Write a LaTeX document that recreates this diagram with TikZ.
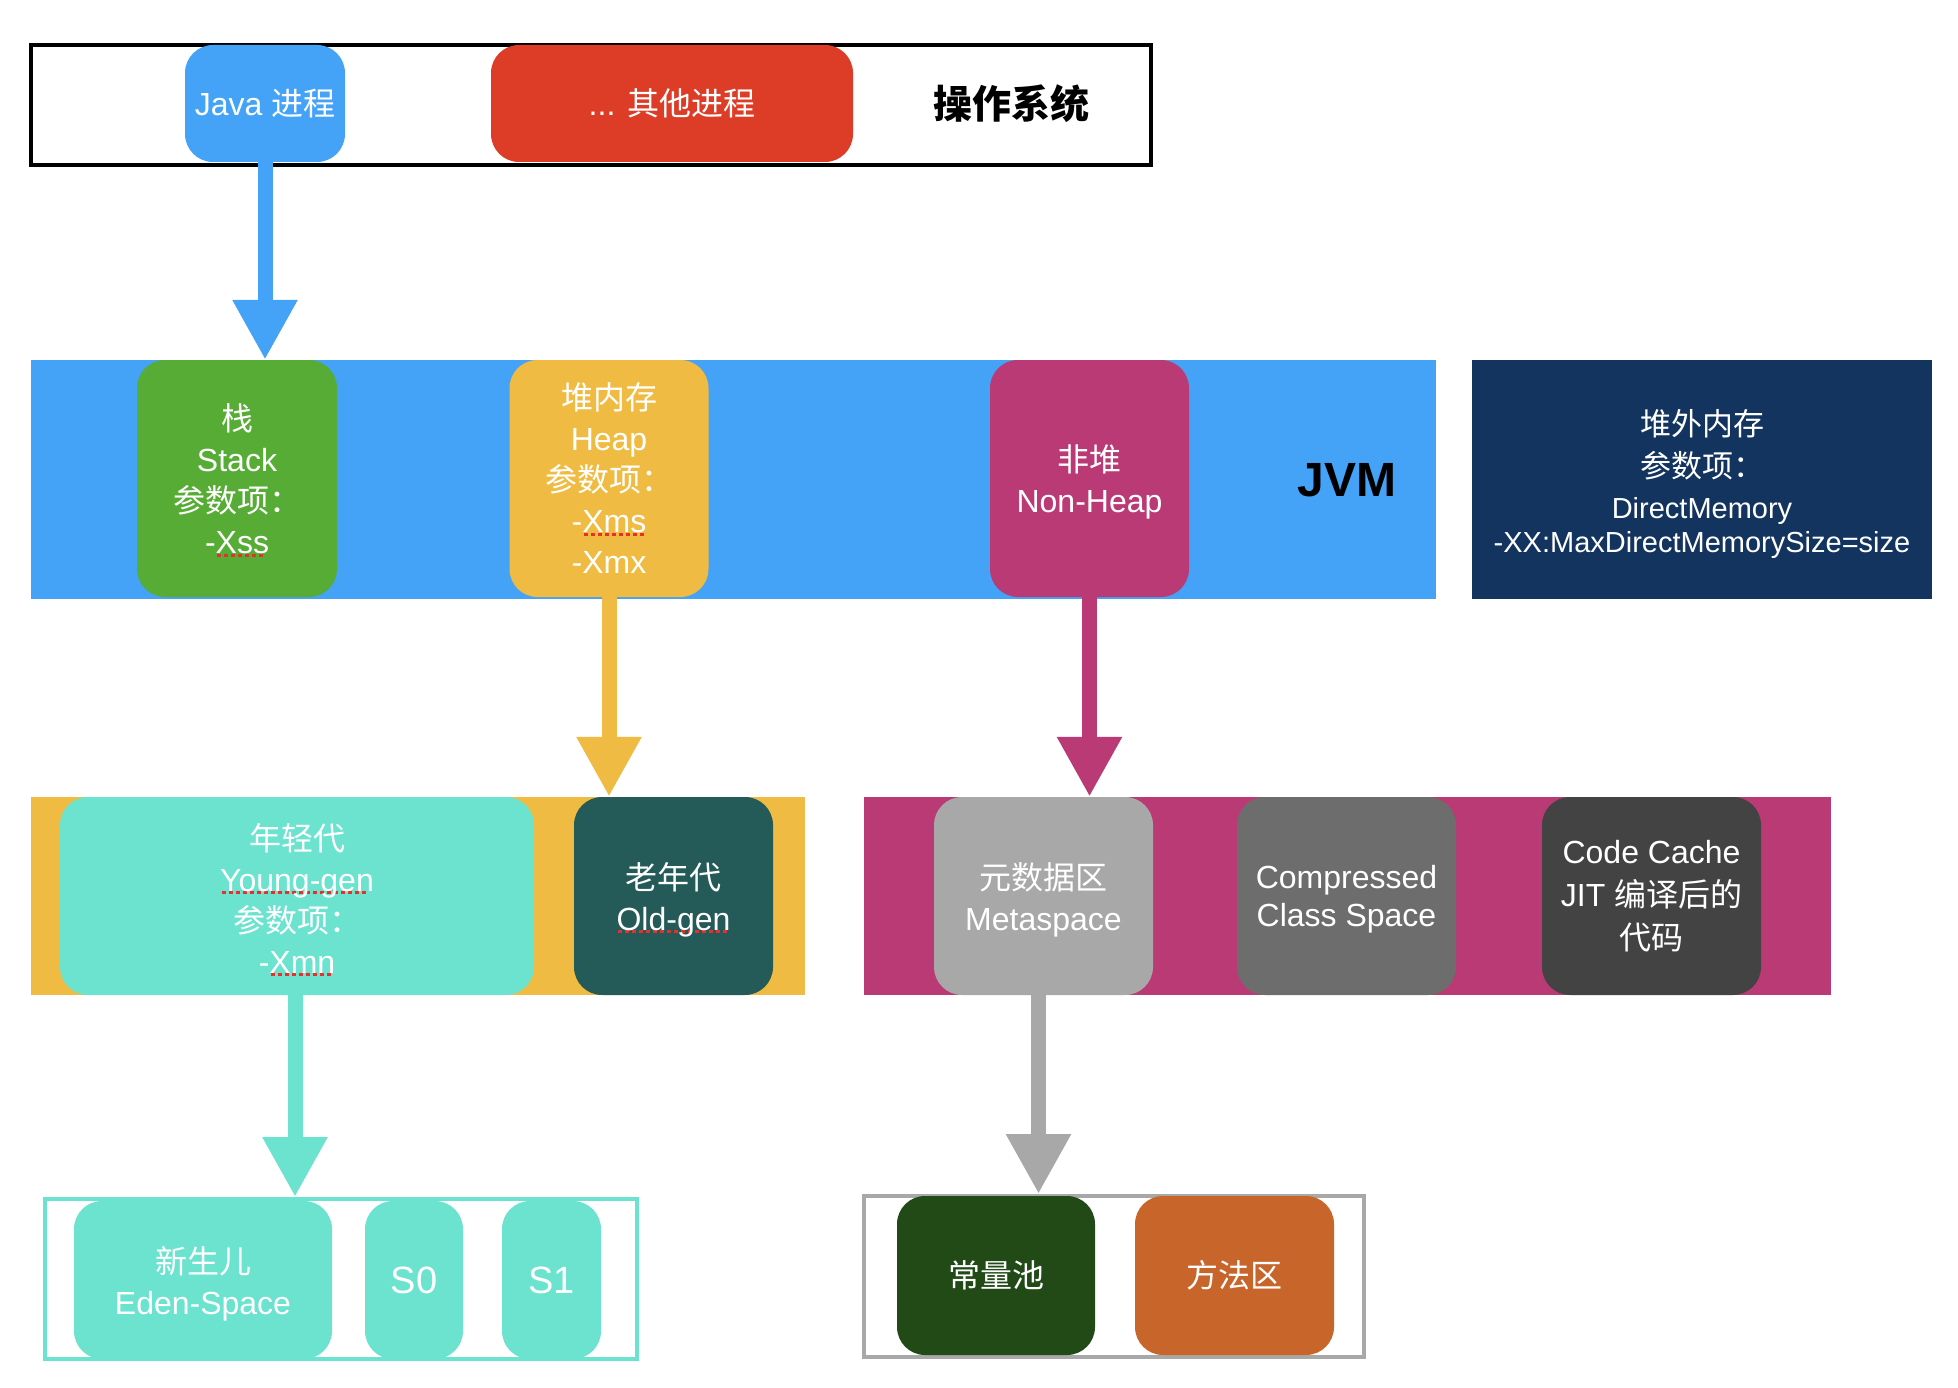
\documentclass[tikz,border=0pt]{standalone}
\usepackage{fontspec}
\setmainfont{Liberation Sans}
\newfontfamily\cjk{Noto Sans CJK SC}
\usetikzlibrary{arrows.meta}
\newcommand\zh[1]{{\cjk #1}}
\newcommand\dn{\rule{0pt}{34pt}}
\newsavebox\sqbox
\newcommand\sq[1]{\sbox\sqbox{#1}\rlap{\color{sqred}\raisebox{-3pt}{\leaders\hbox to 7pt{\hss\rule{4pt}{3pt}\hss}\hskip\wd\sqbox}}\usebox\sqbox}
\definecolor{jblue}{HTML}{44A2F7}
\definecolor{ored}{HTML}{DD3C26}
\definecolor{sgreen}{HTML}{56AC35}
\definecolor{hyellow}{HTML}{F0BB42}
\definecolor{nmag}{HTML}{BA3A76}
\definecolor{navy}{HTML}{13345F}
\definecolor{ycyan}{HTML}{6BE3CF}
\definecolor{oldteal}{HTML}{245A57}
\definecolor{mgray}{HTML}{A8A8A8}
\definecolor{cgray}{HTML}{6D6D6D}
\definecolor{ccdark}{HTML}{434343}
\definecolor{cpgreen}{HTML}{214A17}
\definecolor{morange}{HTML}{C8652A}
\definecolor{sqred}{HTML}{E8302A}
\tikzset{
  rbox/.style={fill=#1, draw=none, rounded corners=28pt, inner sep=0pt, text=white, align=center,
    font=\fontsize{32}{41}\selectfont},
  band/.style={fill=#1, draw=none, inner sep=0pt},
  outl/.style={draw=#1, line width=4pt, fill=none, inner sep=0pt},
  arr/.style={draw=#1, line width=15pt, -{Triangle[width=61pt,length=60pt]}},
}
\begin{document}
\begin{tikzpicture}[x=1pt,y=-1pt]
\useasboundingbox[fill=white] (0,0) rectangle (1958,1388);
% operating system
\node[outl=black, minimum width=1120pt, minimum height=120pt] (os) at (591,105) {};
\node[rbox=jblue, minimum width=160pt, minimum height=117pt] (java) at (265,103.5) {Java \zh{进程}};
\node[rbox=ored, minimum width=362pt, minimum height=117pt] (other) at (672,103.5) {... \zh{其他进程}};
\node[font=\fontsize{39}{46}\selectfont\cjk\bfseries, text=black] (ostext) at (1011,104) {操作系统};
% JVM
\node[band=jblue, minimum width=1405pt, minimum height=239pt] (jvm) at (733.5,479.5) {};
\node[rbox=sgreen, minimum width=200pt, minimum height=237pt] (stack) at (237,478.5) {\rule{0pt}{30pt}\zh{栈}\\Stack\\\zh{参数项：}\\-\sq{Xss}};
\node[rbox=hyellow, minimum width=199pt, minimum height=237pt] (heap) at (609,478.5) {\zh{堆内存}\\Heap\\\zh{参数项：}\\-\sq{Xms}\\-Xmx};
\node[rbox=nmag, minimum width=199pt, minimum height=237pt] (nonheap) at (1089.5,478.5) {\dn\zh{非堆}\\Non-Heap};
\node[font=\fontsize{48}{56}\selectfont\bfseries, text=black] (jvmtext) at (1347,480) {JVM};
\node[band=navy, minimum width=460pt, minimum height=239pt, text=white, align=center, font=\fontsize{29}{41}\selectfont] (offheap) at (1702,479.5)
  {\rule{0pt}{35pt}{\fontsize{31}{41}\selectfont\zh{堆外内存}}\\[1.5pt]{\fontsize{31}{41}\selectfont\zh{参数项：}}\\DirectMemory\\[-7pt]-XX:MaxDirectMemorySize=size};
% heap breakdown
\node[band=hyellow, minimum width=774pt, minimum height=198pt] (heapband) at (418,896) {};
\node[rbox=ycyan, minimum width=474pt, minimum height=198pt] (young) at (297,896) {\dn\zh{年轻代}\\\sq{Young-gen}\\\zh{参数项：}\\-\sq{Xmn}};
\node[rbox=oldteal, minimum width=199pt, minimum height=198pt] (old) at (673.5,896) {\dn\zh{老年代}\\\sq{Old-gen}};
% non-heap breakdown
\node[band=nmag, minimum width=967pt, minimum height=198pt] (nhband) at (1347.5,896) {};
\node[rbox=mgray, minimum width=219pt, minimum height=198pt] (meta) at (1043.5,896) {\dn\zh{元数据区}\\Metaspace};
\node[rbox=cgray, minimum width=219pt, minimum height=198pt, font=\fontsize{32}{38}\selectfont] (ccs) at (1346.5,896) {\rule{0pt}{30pt}Compressed\\Class Space};
\node[rbox=ccdark, minimum width=219pt, minimum height=198pt, font=\fontsize{32}{43}\selectfont] (codecache) at (1651.5,896) {Code Cache\\JIT \zh{编译后的}\\\zh{代码}};
% young breakdown
\node[outl=ycyan, minimum width=592pt, minimum height=160pt] (ybox) at (341,1279) {};
\node[rbox=ycyan, minimum width=258pt, minimum height=158pt] (eden) at (203,1280) {\dn\zh{新生儿}\\Eden-Space};
\node[rbox=ycyan, minimum width=98pt, minimum height=158pt, font=\fontsize{38}{44}\selectfont] (s0) at (414,1280) {S0};
\node[rbox=ycyan, minimum width=99pt, minimum height=158pt, font=\fontsize{38}{44}\selectfont] (s1) at (551.5,1280) {S1};
% metaspace breakdown
\node[outl=mgray, minimum width=500pt, minimum height=161pt] (mbox) at (1114,1276.5) {};
\node[rbox=cpgreen, minimum width=198pt, minimum height=159pt] (cpool) at (996,1275.5) {\zh{常量池}};
\node[rbox=morange, minimum width=199pt, minimum height=159pt] (marea) at (1234.5,1275.5) {\zh{方法区}};
% arrows
\draw[arr=jblue] (java.south) -- (java.south |- jvm.north);
\draw[arr=hyellow] (heap.south) -- (heap.south |- heapband.north);
\draw[arr=nmag] (nonheap.south) -- (nonheap.south |- nhband.north);
\draw[arr=ycyan] ([xshift=-2pt]young.south) -- ([xshift=-2pt]young.south |- ybox.north);
\draw[arr=mgray] ([xshift=-5pt]meta.south) -- ([xshift=-5pt]meta.south |- mbox.north);
\end{tikzpicture}
\end{document}
